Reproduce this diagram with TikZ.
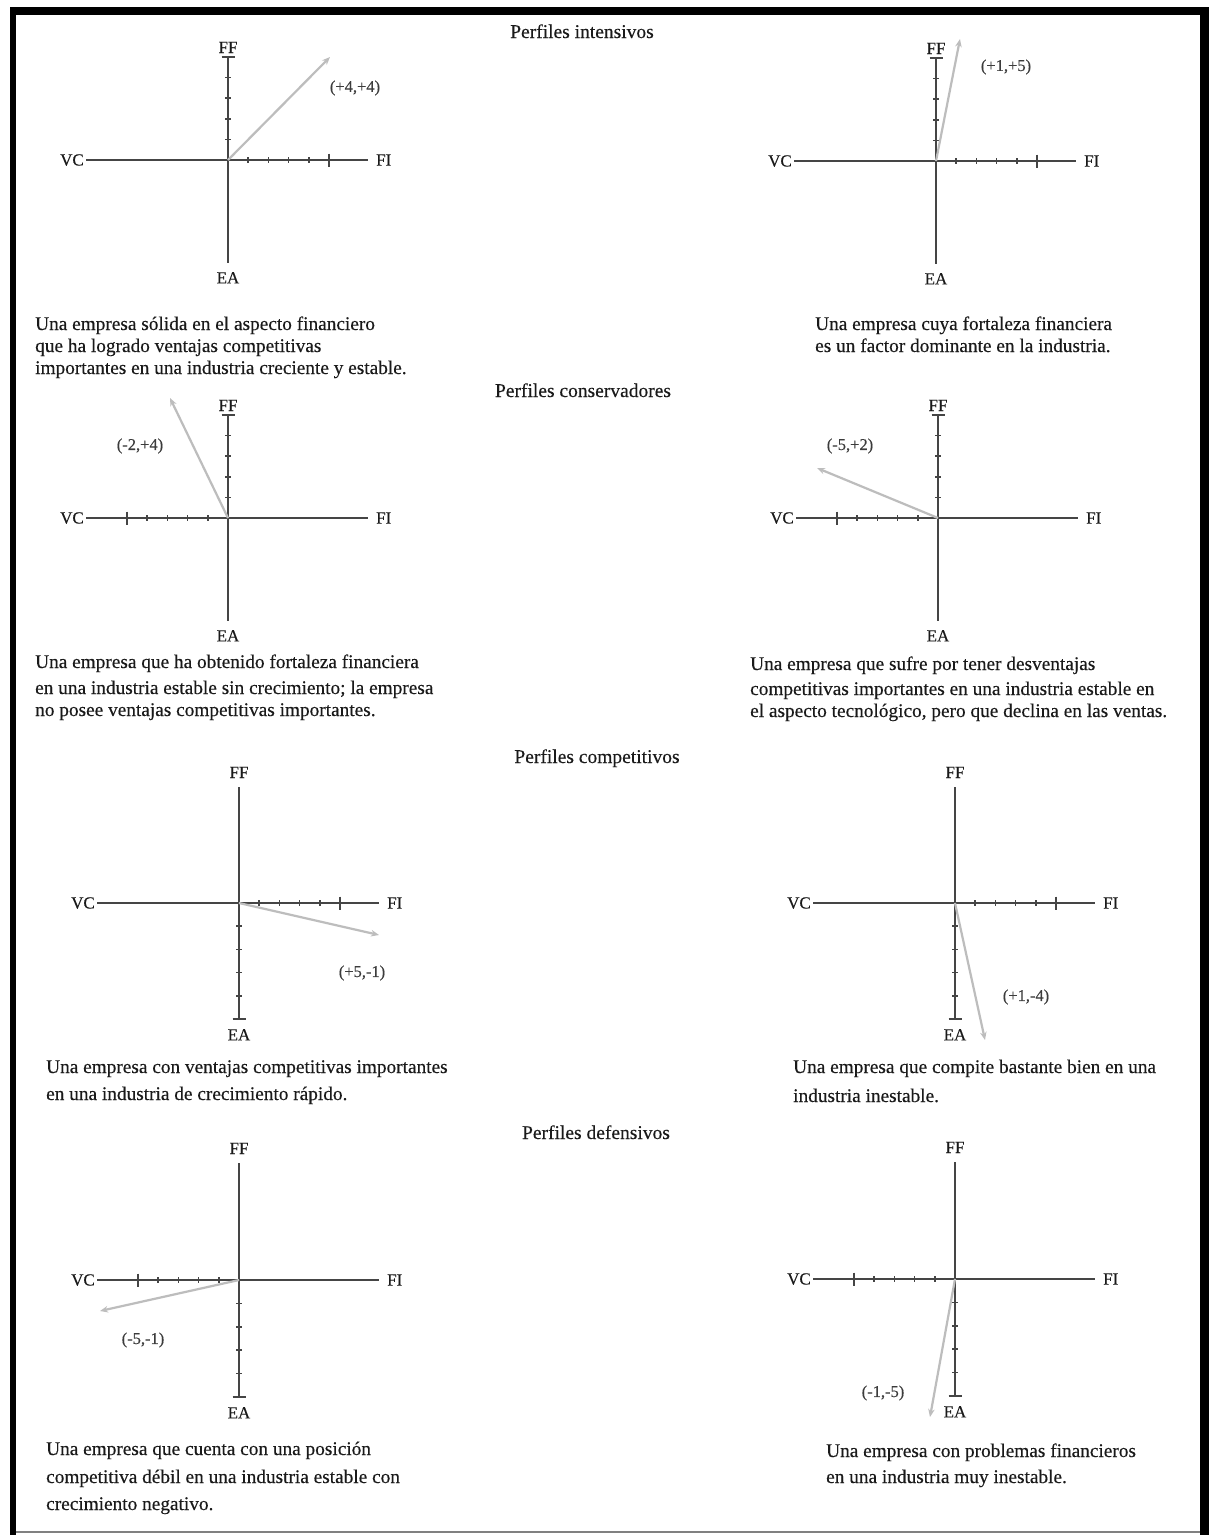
\documentclass[tikz,border=0pt]{standalone}
\usepackage{fontspec}
\setmainfont[FakeBold=0.3]{Liberation Serif}
\usetikzlibrary{calc,arrows.meta}
\definecolor{axisc}{HTML}{454545}
\definecolor{vecc}{HTML}{BDBDBD}
\definecolor{txtc}{HTML}{1A1A1A}
\tikzset{
 axisline/.style={draw=axisc, line width=1.5pt},
 vec/.style={draw=vecc, line width=2.2pt, -{Stealth[length=8pt,width=6.5pt]}},
 axlab/.style={text=txtc, font=\fontsize{17}{19}\selectfont, inner sep=0pt},
 veclab/.style={text=txtc!85, font=\fontsize{16.5}{18}\selectfont, inner sep=0pt},
 bodytxt/.style={text=txtc, font=\fontsize{19.3}{22}\selectfont, inner sep=0pt, anchor=base west},
 titletxt/.style={text=txtc, font=\fontsize{19.5}{22}\selectfont, inner sep=0pt, anchor=base},
}
% #1 name, #2 x, #3 y, #4 vertical half-length, #5 horizontal tick side, #6 vertical tick side, #7 FF gap, #8 EA gap
\newcommand{\quadchart}[8]{%
  \coordinate (#1) at (#2,#3);
  \coordinate (#1-w) at ($(#1)+(-142,0)$);
  \coordinate (#1-e) at ($(#1)+(140,0)$);
  \coordinate (#1-n) at ($(#1)+(0,-#4)$);
  \coordinate (#1-s) at ($(#1)+(0,#4)$);
  \draw[axisline] (#1-w) -- (#1-e);
  \draw[axisline] (#1-n) -- (#1-s);
  \foreach \k in {1,...,4}{
    \draw[axisline] ($(#1)+({#5*20.2*\k},-3)$) -- ++(0,6);
    \draw[axisline] ($(#1)+(-3,{#6*#4*\k/5})$) -- ++(6,0);
  }
  \draw[axisline] ($(#1)+({#5*101},-6.5)$) -- ++(0,13);
  \draw[axisline] ($(#1)+(-6.5,{#6*#4})$) -- ++(13,0);
  \node[axlab, anchor=east] (#1-VC) at ($(#1-w)+(-2,0)$) {VC};
  \node[axlab, anchor=west] (#1-FI) at ($(#1-e)+(8,0)$) {FI};
  \node[axlab, anchor=base] (#1-FF) at ($(#1-n)+(0,-#7)$) {FF};
  \node[axlab, anchor=north] (#1-EA) at ($(#1-s)+(0,#8)$) {EA};
}
\begin{document}
\begin{tikzpicture}[x=1pt,y=-1pt]
\useasboundingbox (0,0) rectangle (1211,1535);
\fill[white] (0,0) rectangle (1211,1535);
% frame
\fill[black] (10,7) rectangle (1209,15);
\fill[black] (10,7) rectangle (16,1535);
\fill[black] (1200,7) rectangle (1209,1535);
\draw[gray, line width=1.5pt] (16,1532) -- (1200,1532);

% titles
\node[titletxt] (t1) at (582,38) {Perfiles intensivos};
\node[titletxt] (t2) at (583,397) {Perfiles conservadores};
\node[titletxt] (t3) at (597,763) {Perfiles competitivos};
\node[titletxt] (t4) at (596,1139) {Perfiles defensivos};

% panels
\quadchart{p1}{228}{160}{103}{1}{-1}{4}{9}
\quadchart{p2}{936}{161}{103}{1}{-1}{4}{9}
\quadchart{p3}{228}{518}{103}{-1}{-1}{4}{9}
\quadchart{p4}{938}{518}{103}{-1}{-1}{4}{9}
\quadchart{p5}{239}{903}{116}{1}{1}{9}{10}
\quadchart{p6}{955}{903}{116}{1}{1}{9}{10}
\quadchart{p7}{239}{1280}{117}{-1}{1}{9}{10}
\quadchart{p8}{955}{1279}{117}{-1}{1}{9}{10}

% vectors
\coordinate (v1) at (330,57);
\coordinate (v2) at (960,39);
\coordinate (v3) at (170,398);
\coordinate (v4) at (817,468);
\coordinate (v5) at (379,935);
\coordinate (v6) at (985,1040);
\coordinate (v7) at (100,1311);
\coordinate (v8) at (930,1417);
\foreach \i in {1,...,8}{\draw[vec] (p\i) -- (v\i);}

\node[veclab] (l1) at (355,88) {(+4,+4)};
\node[veclab] (l2) at (1006,67) {(+1,+5)};
\node[veclab] (l3) at (140,446) {(-2,+4)};
\node[veclab] (l4) at (850,446) {(-5,+2)};
\node[veclab] (l5) at (362,973) {(+5,-1)};
\node[veclab] (l6) at (1026,997) {(+1,-4)};
\node[veclab] (l7) at (143,1340) {(-5,-1)};
\node[veclab] (l8) at (883,1393) {(-1,-5)};

% descriptions
\node[bodytxt] (d1a) at (35,330) {Una empresa sólida en el aspecto financiero};
\node[bodytxt] (d1b) at (35,352) {que ha logrado ventajas competitivas};
\node[bodytxt] (d1c) at (35,374) {importantes en una industria creciente y estable.};

\node[bodytxt] (d2a) at (815,330) {Una empresa cuya fortaleza financiera};
\node[bodytxt] (d2b) at (815,352) {es un factor dominante en la industria.};

\node[bodytxt] (d3a) at (35,668) {Una empresa que ha obtenido fortaleza financiera};
\node[bodytxt] (d3b) at (35,694) {en una industria estable sin crecimiento; la empresa};
\node[bodytxt] (d3c) at (35,716) {no posee ventajas competitivas importantes.};

\node[bodytxt] (d4a) at (750,670) {Una empresa que sufre por tener desventajas};
\node[bodytxt] (d4b) at (750,695) {competitivas importantes en una industria estable en};
\node[bodytxt] (d4c) at (750,717) {el aspecto tecnológico, pero que declina en las ventas.};

\node[bodytxt] (d5a) at (46,1073) {Una empresa con ventajas competitivas importantes};
\node[bodytxt] (d5b) at (46,1100) {en una industria de crecimiento rápido.};

\node[bodytxt] (d6a) at (793,1073) {Una empresa que compite bastante bien en una};
\node[bodytxt] (d6b) at (793,1102) {industria inestable.};

\node[bodytxt] (d7a) at (46,1455) {Una empresa que cuenta con una posición};
\node[bodytxt] (d7b) at (46,1483) {competitiva débil en una industria estable con};
\node[bodytxt] (d7c) at (46,1510) {crecimiento negativo.};

\node[bodytxt] (d8a) at (826,1457) {Una empresa con problemas financieros};
\node[bodytxt] (d8b) at (826,1483) {en una industria muy inestable.};
\end{tikzpicture}
\end{document}
